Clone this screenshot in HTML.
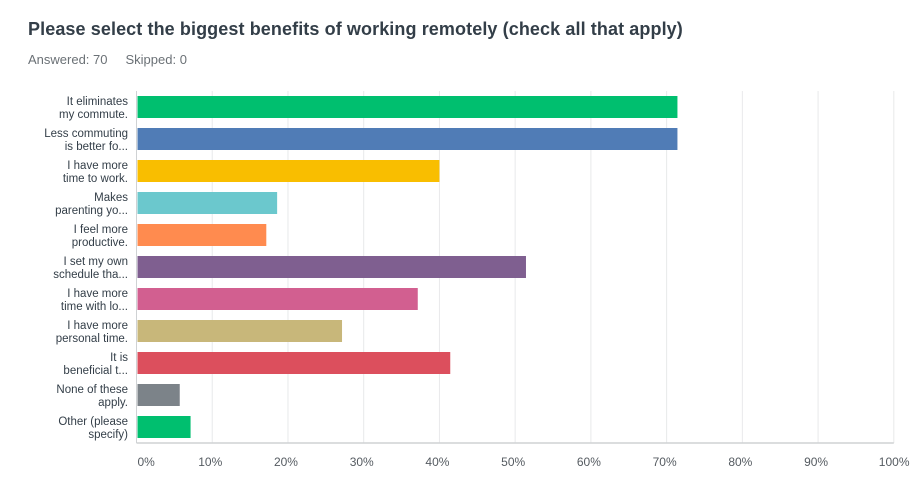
<!DOCTYPE html>
<html><head><meta charset="utf-8"><style>
body{margin:0;background:#fff;width:917px;height:490px;overflow:hidden;font-family:"Liberation Sans",sans-serif;position:relative}
#title{position:absolute;left:28px;top:19px;font-size:18px;font-weight:bold;color:#333e48;letter-spacing:0.1px}
#sub{position:absolute;left:28px;top:52px;font-size:13px;color:#6b7176}
#sub span{margin-right:18px}
svg{position:absolute;left:0;top:0}
</style></head><body>
<div id="title">Please select the biggest benefits of working remotely (check all that apply)</div>
<div id="sub"><span>Answered: 70</span><span>Skipped: 0</span></div>
<svg id="chart" width="917" height="490"></svg>
<script>
const categories=[["It eliminates","my commute."],["Less commuting","is better fo..."],["I have more","time to work."],["Makes","parenting yo..."],["I feel more","productive."],["I set my own","schedule tha..."],["I have more","time with lo..."],["I have more","personal time."],["It is","beneficial t..."],["None of these","apply."],["Other (please","specify)"]];
const values=[71.43,71.43,40.0,18.57,17.14,51.43,37.14,27.14,41.43,5.71,7.14];
const colors=["#00bf6f","#507cb6","#f9be00","#6bc8cd","#ff8b4f","#7f5f90","#d25f90","#c8b77a","#dc4f5d","#7c8389","#00bf6f"];
const tickLabels=["0%","10%","20%","30%","40%","50%","60%","70%","80%","90%","100%"];
const NS="http://www.w3.org/2000/svg";
const svg=document.getElementById('chart');
const x0=136.5,x1=893.8,yTop=91,band=32,barH=22;
const xs=v=>x0+(x1-x0)*v/100;
function mk(t,a){const e=document.createElementNS(NS,t);for(const k in a)e.setAttribute(k,a[k]);svg.appendChild(e);return e;}
tickLabels.forEach((t,i)=>{
  const v=i*10,x=xs(v);
  if(i>0){const g=mk('line',{x1:x,x2:x,y1:yTop,y2:443,stroke:'#e8e9ea','stroke-width':1});
  
  }
  const tx=mk('text',{x:i==0?x+1:(i==10?x-15:x-14),y:466,'font-size':12,fill:'#555b61'});
  tx.textContent=t;
  
  
});
categories.forEach((c,i)=>{
  const y=yTop+5+i*band;
  const r=mk('rect',{x:x0+1,y:y,width:xs(values[i])-x0-1,height:barH,fill:colors[i]});
  
  
  c.forEach((line,j)=>{
    const t=mk('text',{x:128,y:y+9+j*13,'text-anchor':'end','font-size':11.5,fill:'#333e48'});
    t.textContent=line;
    
    
  });
});
const ax=mk('line',{x1:x0,x2:x0,y1:yTop,y2:443,stroke:'#cfd2d4','stroke-width':1});


const bx=mk('line',{x1:x0,x2:x1,y1:443,y2:443,stroke:'#cfd2d4','stroke-width':1.5});


</script>
</body></html>
